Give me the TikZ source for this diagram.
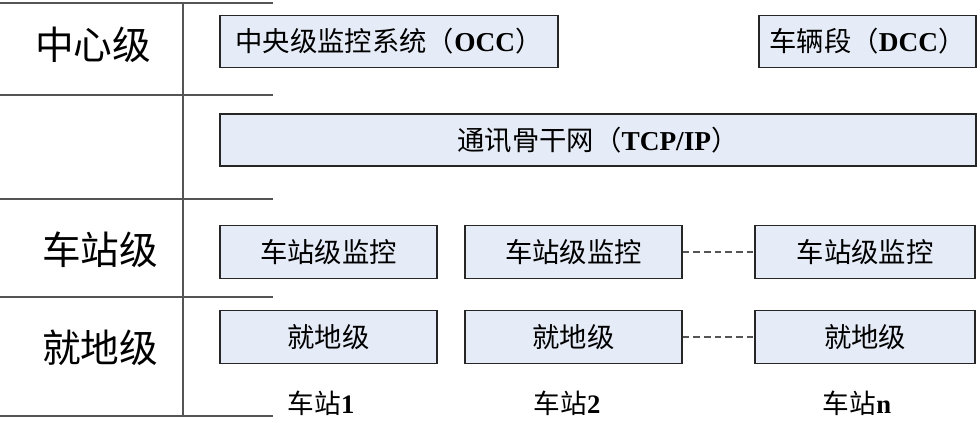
\documentclass[tikz,border=0pt]{standalone}
\usepackage{fontspec}
\setmainfont{Liberation Serif}
\newfontfamily\cjk{Noto Sans CJK SC}
\definecolor{boxfill}{RGB}{230,236,247}
\definecolor{gridgray}{RGB}{85,85,85}
\newcommand{\lat}[1]{{\rmfamily\bfseries #1}}

\begin{document}
\begin{tikzpicture}[x=0.75pt, y=-0.75pt,
	box/.style={draw=black!85, fill=boxfill, line width=0.8pt, inner sep=0pt, minimum height=39.5pt, font=\cjk\fontsize{20.5}{24}\selectfont},
	level/.style={font=\cjk\fontsize{29}{32}\selectfont},
	stnlabel/.style={font=\cjk\fontsize{20}{24}\selectfont},
	grid/.style={draw=gridgray, line width=0.9pt},
	link/.style={draw=gridgray, line width=0.8pt, dash pattern=on 5pt off 3pt}]
		\useasboundingbox (0,0) rectangle (980,422);
		% left column of levels
		\foreach \y in {3,95,199,297,416}
			\draw[grid] (0,\y) -- (273,\y);
		\draw[grid] (183,3) -- (183,416);
		\node[level] (central) at (93,45) {中心级};
		\node[level] (station) at (100,250) {车站级};
		\node[level] (local) at (100,348) {就地级};
		% central level
		\node[box, minimum width=253.5pt] (occ) at (389,41.5) {中央级监控系统（\lat{OCC}）};
		\node[box, minimum width=162.75pt] (dcc) at (867.5,41.5) {车辆段（\lat{DCC}）};
		\node[box, minimum width=567pt, minimum height=39pt] (net) at (598,140) {通讯骨干网（\lat{TCP/IP}）};
		% stations
		\node[box, minimum width=162.75pt] (s1) at (328.5,252) {车站级监控};
		\node[box, minimum width=162.75pt] (s2) at (573.5,252) {车站级监控};
		\node[box, minimum width=165pt] (s3) at (865,252) {车站级监控};
		\node[box, minimum width=162.75pt] (l1) at (328.5,337) {就地级};
		\node[box, minimum width=162.75pt] (l2) at (573.5,337) {就地级};
		\node[box, minimum width=165pt] (l3) at (865,337) {就地级};
		\draw[link] (s2) -- (s3);
		\draw[link] (l2) -- (l3);
		\node[stnlabel] (n1) at (321,403) {车站\lat{1}};
		\node[stnlabel] (n2) at (567,403) {车站\lat{2}};
		\node[stnlabel] (nn) at (857,403) {车站\lat{n}};
	\end{tikzpicture}
\end{document}
